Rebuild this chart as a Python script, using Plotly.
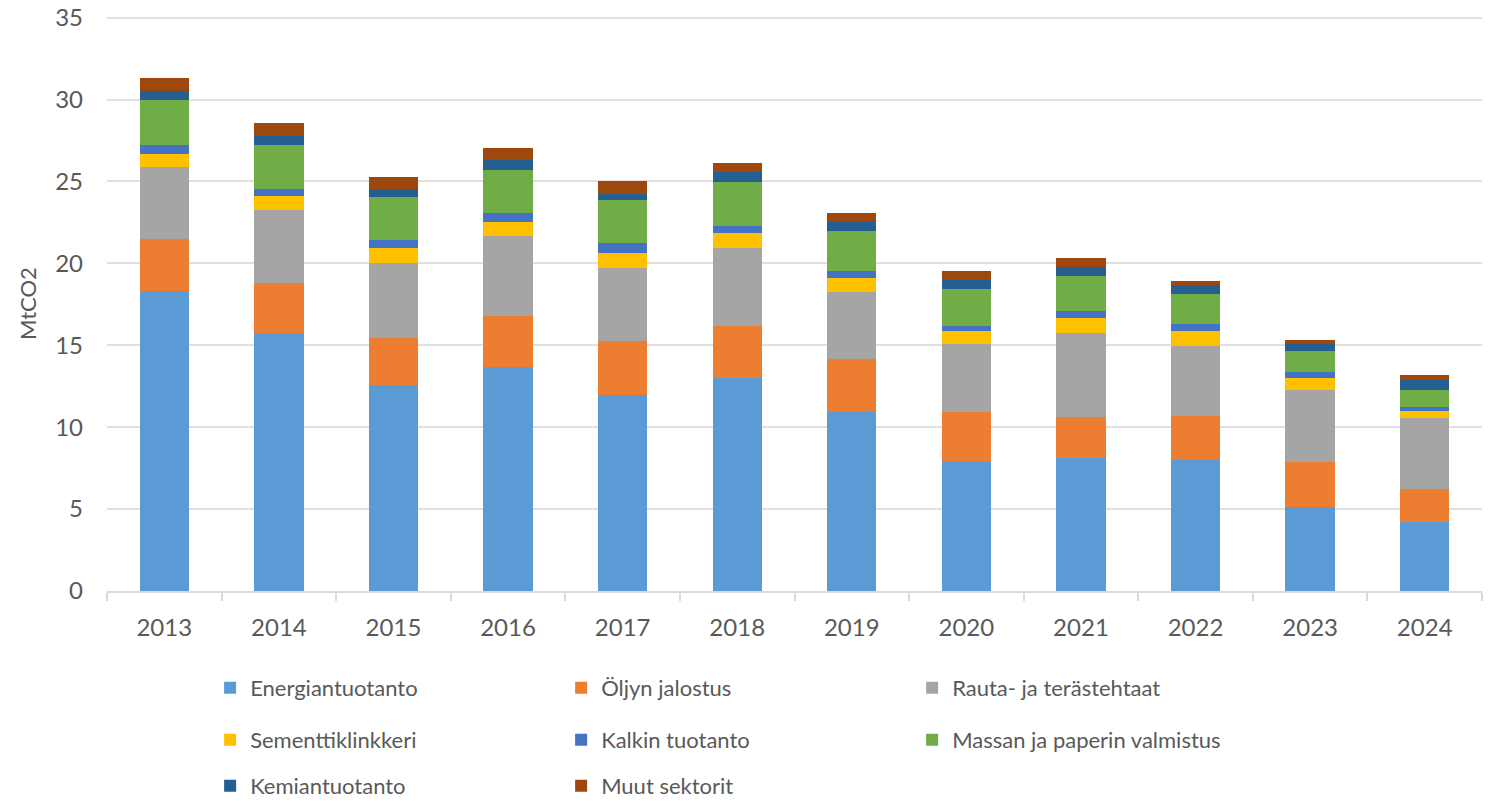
import plotly.graph_objects as go

years = ["2013", "2014", "2015", "2016", "2017", "2018",
         "2019", "2020", "2021", "2022", "2023", "2024"]

energiantuotanto = [18.3, 15.7, 12.55, 13.65, 11.95, 13.0, 10.9, 7.9, 8.1, 8.0, 5.1, 4.2]
oljyn_jalostus = [3.2, 3.1, 2.9, 3.15, 3.3, 3.15, 3.25, 3.0, 2.55, 2.7, 2.8, 2.0]
rauta_ja_teras = [4.4, 4.45, 4.6, 4.9, 4.45, 4.8, 4.1, 4.15, 5.1, 4.25, 4.4, 4.35]
sementtiklinkkeri = [0.75, 0.85, 0.9, 0.85, 0.95, 0.9, 0.85, 0.8, 0.9, 0.9, 0.7, 0.45]
kalkin_tuotanto = [0.6, 0.45, 0.5, 0.55, 0.6, 0.45, 0.45, 0.35, 0.45, 0.45, 0.35, 0.25]
massa_ja_paperi = [2.75, 2.7, 2.6, 2.6, 2.6, 2.65, 2.45, 2.25, 2.15, 1.8, 1.3, 1.05]
kemiantuotanto = [0.5, 0.55, 0.5, 0.6, 0.4, 0.6, 0.55, 0.55, 0.55, 0.55, 0.45, 0.55]
muut_sektorit = [0.84, 0.75, 0.75, 0.75, 0.75, 0.55, 0.55, 0.55, 0.5, 0.3, 0.2, 0.35]

series = [
    ("Energiantuotanto", energiantuotanto, "#5B9BD5", "legend"),
    ("Öljyn jalostus", oljyn_jalostus, "#ED7D31", "legend"),
    ("Rauta- ja terästehtaat", rauta_ja_teras, "#A5A5A5", "legend"),
    ("Sementtiklinkkeri", sementtiklinkkeri, "#FFC000", "legend2"),
    ("Kalkin tuotanto", kalkin_tuotanto, "#4472C4", "legend2"),
    ("Massan ja paperin valmistus", massa_ja_paperi, "#70AD47", "legend2"),
    ("Kemiantuotanto", kemiantuotanto, "#255E91", "legend3"),
    ("Muut sektorit", muut_sektorit, "#9E480E", "legend3"),
]

font_family = "Lato, Liberation Sans, sans-serif"
text_color = "#595959"

fig = go.Figure()

for name, values, color, leg in series:
    fig.add_trace(go.Bar(
        x=years,
        y=values,
        name=name,
        marker=dict(color=color, line=dict(width=0)),
        legend=leg,
    ))

# one legend per row, so the row spacing can follow the original
legend_common = dict(
    orientation="h",
    x=0.075,
    xanchor="left",
    yref="container",
    yanchor="middle",
    entrywidth=306,
    traceorder="normal",
    font=dict(family=font_family, size=22, color=text_color),
    bgcolor="rgba(0,0,0,0)",
)

# page body has an 8px margin, so the figure is 8px smaller than the window
fig.update_layout(
    barmode="stack",
    bargap=0.57,
    width=1488,
    height=793,
    margin=dict(l=99, r=14, t=8, b=210, autoexpand=False),
    paper_bgcolor="white",
    plot_bgcolor="white",
    font=dict(family=font_family, size=22, color=text_color),
    legend=dict(legend_common, y=0.1425),
    legend2=dict(legend_common, y=0.0769),
    legend3=dict(legend_common, y=0.0189),
    xaxis=dict(
        showline=True,
        linecolor="#d9d9d9",
        linewidth=2,
        ticks="outside",
        tickson="boundaries",
        ticklen=8,
        tickcolor="#d9d9d9",
        tickwidth=2,
        tickfont=dict(size=24, color=text_color),
        ticklabelstandoff=14,
        showgrid=False,
    ),
    yaxis=dict(
        range=[0, 35.1],
        tickvals=[0, 5, 10, 15, 20, 25, 30, 35],
        showgrid=True,
        gridcolor="#e0e0e0",
        gridwidth=2,
        zeroline=False,
        tickfont=dict(size=24, color=text_color),
        ticklabelstandoff=23,
        ticklabeloverflow="allow",
        title=dict(text="MtCO2", font=dict(size=22, color=text_color), standoff=12),
    ),
)

fig.write_html("out.html")
